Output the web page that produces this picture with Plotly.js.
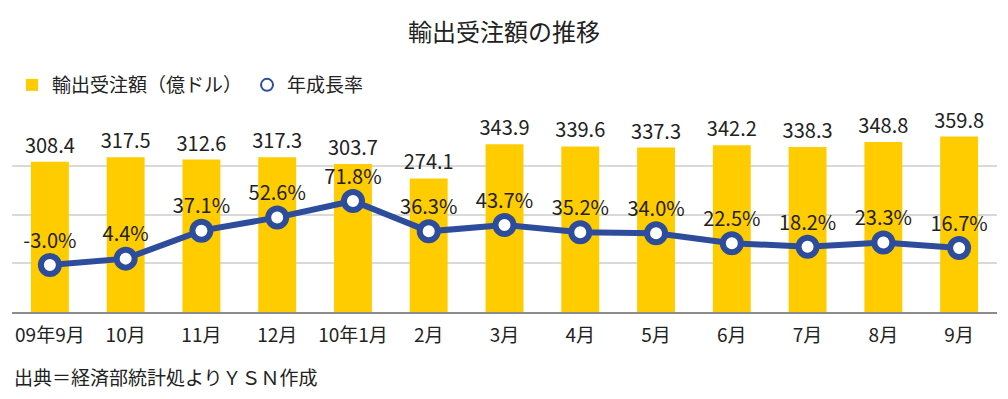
<!DOCTYPE html>
<html>
<head>
<meta charset="utf-8">
<script src="https://cdn.plot.ly/plotly-3.0.1.min.js"></script>
<style>html,body{margin:0;padding:0;background:#fff;}#chart{width:1008px;height:399px;}</style>
</head>
<body>
<div id="chart"></div>
<script>
var categories = ["09年9月","10月","11月","12月","10年1月","2月","3月","4月","5月","6月","7月","8月","9月"];
var orders = [308.4, 317.5, 312.6, 317.3, 303.7, 274.1, 343.9, 339.6, 337.3, 342.2, 338.3, 348.8, 359.8];
var growth = [-3.0, 4.4, 37.1, 52.6, 71.8, 36.3, 43.7, 35.2, 34.0, 22.5, 18.2, 23.3, 16.7];
var orderLabels = orders.map(function(v){return v.toFixed(1);});
var growthLabels = growth.map(function(v){return v.toFixed(1) + "%";});

var FONT = '"Noto Sans CJK JP", "Noto Sans", sans-serif';
var BLUE = '#2d4d9c';
var YELLOW = '#ffcc00';

var traces = [
  {
    type: 'bar', name: '輸出受注額（億ドル）', x: categories, y: orders,
    marker: {color: YELLOW}, width: 0.5,
    text: orderLabels, textposition: 'outside', cliponaxis: false, constraintext: 'none',
    textfont: {family: FONT, size: 20, color: '#222'}, hoverinfo: 'skip'
  },
  {
    type: 'scatter', mode: 'lines', x: categories, y: growth, yaxis: 'y2',
    line: {color: BLUE, width: 6}, showlegend: false, hoverinfo: 'skip'
  },
  {
    type: 'scatter', mode: 'markers+text', name: '年成長率', x: categories, y: growth, yaxis: 'y2',
    marker: {symbol: 'circle', size: 18, color: '#fff', line: {color: BLUE, width: 6}},
    text: growthLabels, textposition: 'top center', cliponaxis: false,
    textfont: {family: FONT, size: 20, color: '#222'}, hoverinfo: 'skip'
  }
];

var layout = {
  width: 1008, height: 399,
  margin: {l: 12, r: 11, t: 117, b: 87},
  paper_bgcolor: '#fff', plot_bgcolor: '#fff',
  font: {family: FONT, color: '#222', size: 19},
  title: {text: '輸出受注額の推移', font: {family: FONT, size: 24, color: '#222'},
          x: 0.5, xanchor: 'center', y: 1 - 33/399, yanchor: 'middle'},
  showlegend: true,
  legend: {orientation: 'h', x: 0, xanchor: 'left', y: 1.164, yanchor: 'middle', itemsizing: 'constant',
           font: {family: FONT, size: 19, color: '#222'}, traceorder: 'normal', itemwidth: 30},
  xaxis: {type: 'category', range: [-0.5, 12.5], autorange: false, showline: true, linecolor: '#8c8c8c', linewidth: 2,
          ticks: '', ticklabelstandoff: 5, tickfont: {family: FONT, size: 19, color: '#222'}, showgrid: false},
  yaxis: {range: [0, 400], dtick: 100, showgrid: true, gridcolor: '#d9d9d9', gridwidth: 2,
          showticklabels: false, zeroline: false, ticks: ''},
  yaxis2: {range: [-58, 170], overlaying: 'y', side: 'right', showgrid: false,
           showticklabels: false, zeroline: false, ticks: ''},
  annotations: [{
    text: '出典＝経済部統計処よりＹＳＮ作成', xref: 'paper', yref: 'paper',
    x: 0, xanchor: 'left', y: -0.33, yanchor: 'middle', showarrow: false,
    font: {family: FONT, size: 19, color: '#222'}
  }],
  bargap: 0.5
};

Plotly.newPlot('chart', traces, layout, {displayModeBar: false, staticPlot: true});
</script>
</body>
</html>
